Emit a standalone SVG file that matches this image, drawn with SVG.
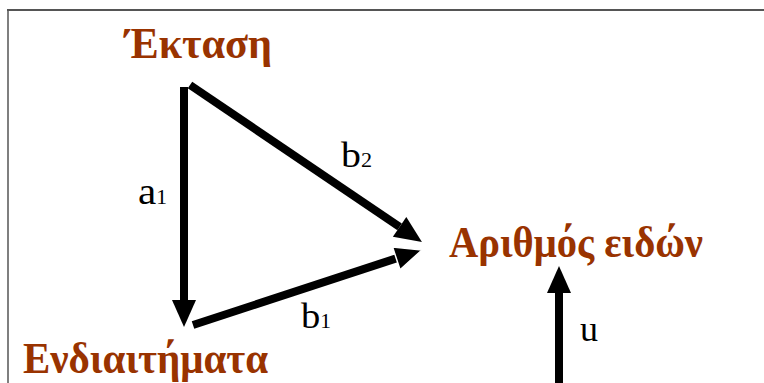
<svg xmlns="http://www.w3.org/2000/svg" width="764" height="383" viewBox="0 0 764 383">
<style>
.node{font-family:"Liberation Serif","Times New Roman",serif;font-weight:bold;fill:#993300}
.lab{font-family:"Liberation Serif","Times New Roman",serif;fill:#000}
.edge{stroke:#000;stroke-width:8;fill:none}
</style>
<defs>
<marker id="ah" markerUnits="userSpaceOnUse" markerWidth="30" markerHeight="26" refX="0" refY="12" orient="auto" overflow="visible">
<path d="M0,0 L27,12 L0,24 Z" fill="#000"/>
</marker>
<marker id="ahw" markerUnits="userSpaceOnUse" markerWidth="30" markerHeight="26" refX="0" refY="12" orient="auto" overflow="visible">
<path d="M0,0 L27,12 L0,24 Z" fill="#000" stroke="#fff" stroke-width="1.5"/>
</marker>
</defs>
<rect width="764" height="383" fill="#fff"/>
<g id="frame">
<line x1="7" y1="10" x2="764" y2="10" stroke="#555" stroke-width="2"/>
<line x1="8" y1="10" x2="8" y2="383" stroke="#555" stroke-width="1.5"/>
</g>
<g id="connectors">
<g id="a1">
<line class="edge" x1="184" y1="87" x2="184" y2="300" marker-end="url(#ah)"/>
<text class="lab" x="138" y="204" font-size="38" textLength="29" lengthAdjust="spacingAndGlyphs">a<tspan font-size="20">1</tspan></text>
</g>
<g id="b2">
<line class="edge" x1="190" y1="85" x2="399.6" y2="226.9" marker-end="url(#ah)"/>
<text class="lab" x="341" y="167" font-size="36" textLength="31" lengthAdjust="spacingAndGlyphs">b<tspan font-size="20">2</tspan></text>
</g>
<g id="b1">
<line class="edge" x1="193" y1="325" x2="396.3" y2="258.4" marker-end="url(#ahw)"/>
<text class="lab" x="301" y="328" font-size="36" textLength="30" lengthAdjust="spacingAndGlyphs">b<tspan font-size="20">1</tspan></text>
</g>
<g id="u">
<line class="edge" x1="559" y1="383" x2="559" y2="293" marker-end="url(#ah)"/>
<text class="lab" x="580" y="341" font-size="36">u</text>
</g>
</g>
<g id="ektasi">
<text class="node" x="125" y="58" font-size="44" textLength="147" lengthAdjust="spacingAndGlyphs">Έκταση</text>
</g>
<g id="arithmos">
<text class="node" x="449" y="257" font-size="44" textLength="254" lengthAdjust="spacingAndGlyphs">Αριθμός ειδών</text>
</g>
<g id="endiaitimata">
<text class="node" x="23" y="373" font-size="44" textLength="245" lengthAdjust="spacingAndGlyphs">Ενδιαιτήματα</text>
</g>
</svg>
